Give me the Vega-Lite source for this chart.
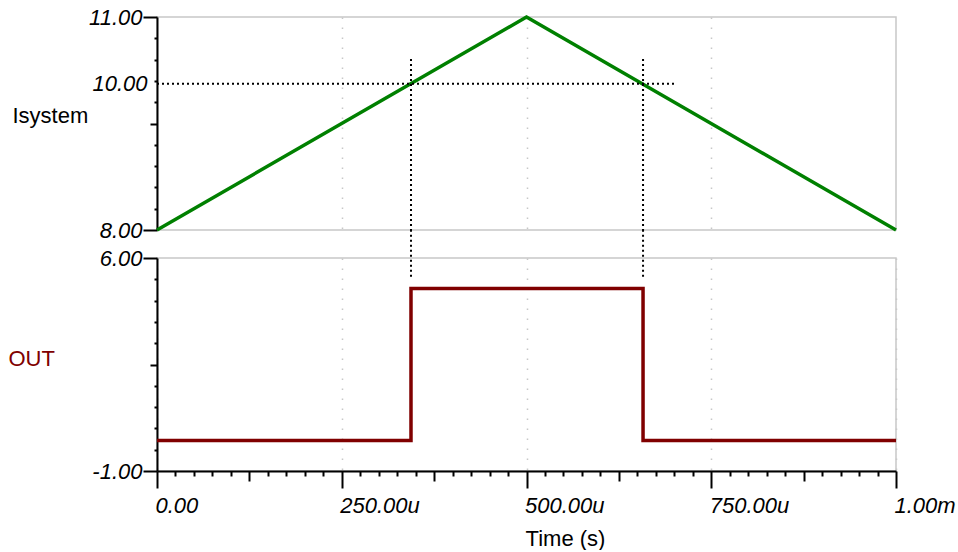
{
  "$schema": "https://vega.github.io/schema/vega-lite/v6.json",
  "padding": {"left": 7, "top": 5, "right": 0, "bottom": 0},
  "background": "white",
  "bounds": "flush",
  "spacing": 28,
  "config": {
    "font": "Liberation Sans",
    "view": {"stroke": "#c8c8c8", "strokeWidth": 1.5},
    "axis": {
      "domainColor": "black", "domainWidth": 2,
      "tickColor": "black", "tickWidth": 2,
      "labelColor": "black", "labelFont": "Liberation Sans", "labelFontSize": 22, "labelFontStyle": "italic",
      "titleFont": "Liberation Sans", "titleFontSize": 22, "titleFontWeight": "normal", "titleColor": "black",
      "grid": false, "labelFlush": false, "labelOverlap": false, "labelBound": false
    }
  },
  "vconcat": [
    {
      "width": 739, "height": 213,
      "resolve": {"axis": {"x": "independent", "y": "independent"}},
      "layer": [
        {
          "data": {"values": [{"time_us": 0, "isystem": 8}, {"time_us": 500, "isystem": 11}, {"time_us": 1000, "isystem": 8}]},
          "mark": {"type": "line", "color": "#008000", "strokeWidth": 3.5},
          "encoding": {
            "x": {"field": "time_us", "type": "quantitative", "scale": {"domain": [0, 1000], "nice": false, "zero": false},
              "axis": {"orient": "bottom", "values": [250, 500, 750], "grid": true, "gridColor": "#c8c8c8", "gridDash": [1.5, 8.5], "gridWidth": 1.5, "domain": false, "ticks": false, "labels": false, "title": null}},
            "y": {"field": "isystem", "type": "quantitative", "scale": {"domain": [8, 11], "nice": false, "zero": false},
              "axis": {
                "orient": "left", "values": [8, 11], "tickSize": 14, "format": ".2f",
                "labelPadding": 1, "labelBaseline": "middle",
                "title": "Isystem", "titleAngle": 0, "titleAlign": "left", "titleBaseline": "alphabetic", "titleX": -145, "titleY": 105
              }}
          }
        },
        {
          "data": {"values": [{"cursor_y": 10.06, "x_start": 0, "x_end": 700}]},
          "mark": {"type": "rule", "color": "black", "strokeWidth": 2, "strokeDash": [2, 3]},
          "encoding": {
            "y": {"field": "cursor_y", "type": "quantitative",
              "axis": {"orient": "left", "values": [10.06], "domain": false, "ticks": false, "labelExpr": "'10.00'", "labelPadding": 10, "labelBaseline": "middle", "title": null}},
            "x": {"field": "x_start", "type": "quantitative", "axis": null},
            "x2": {"field": "x_end"}
          }
        },
        {
          "data": {"values": [{"cursor_t": 343.7}]},
          "mark": {"type": "rule", "color": "black", "strokeWidth": 2, "strokeDash": [2, 3]},
          "encoding": {
            "x": {"field": "cursor_t", "type": "quantitative", "axis": null},
            "y": {"datum": 10.41, "type": "quantitative",
              "axis": {"orient": "left", "values": [8.3, 8.6, 8.9, 9.2, 9.8, 10.1, 10.4, 10.7], "domain": false, "tickSize": 3, "labels": false, "title": null}},
            "y2": {"datum": 8}
          }
        },
        {
          "data": {"values": [{"cursor_t": 657.7}]},
          "mark": {"type": "rule", "color": "black", "strokeWidth": 2, "strokeDash": [2, 3]},
          "encoding": {
            "x": {"field": "cursor_t", "type": "quantitative", "axis": null},
            "y": {"datum": 10.41, "type": "quantitative",
              "axis": {"orient": "left", "values": [9.5], "domain": false, "tickSize": 7, "labels": false, "title": null}},
            "y2": {"datum": 8}
          }
        }
      ]
    },
    {
      "width": 739, "height": 213,
      "resolve": {"axis": {"x": "independent", "y": "independent"}},
      "layer": [
        {
          "data": {"values": [{"time_us": 0, "out": 0}, {"time_us": 343.7, "out": 5}, {"time_us": 657.7, "out": 0}, {"time_us": 1000, "out": 0}]},
          "mark": {"type": "line", "color": "#800000", "strokeWidth": 3.5, "interpolate": "step-after"},
          "encoding": {
            "x": {"field": "time_us", "type": "quantitative", "scale": {"domain": [0, 1000], "nice": false, "zero": false},
              "axis": {
                "orient": "bottom", "values": [0, 250, 500, 750, 1000], "tickSize": 17,
                "labelExpr": "datum.value==0?'0.00':datum.value==250?'250.00u':datum.value==500?'500.00u':datum.value==750?'750.00u':'1.00m'",
                "labelAlign": "left", "labelBaseline": "top", "labelPadding": 7, "labelOffset": -2,
                "grid": true, "gridColor": "#c8c8c8", "gridDash": [1.5, 8.5], "gridWidth": 1.5,
                "title": "Time (s)", "titleX": 408, "titleY": 74, "titleAlign": "center", "titleBaseline": "alphabetic"
              }},
            "y": {"field": "out", "type": "quantitative", "scale": {"domain": [-1, 6], "nice": false, "zero": false},
              "axis": {
                "orient": "left", "values": [-1, 6], "tickSize": 14,
                "labelExpr": "datum.value==-1?'-1.00':'6.00'",
                "labelPadding": 1, "labelBaseline": "middle",
                "title": "OUT", "titleColor": "#800000", "titleAngle": 0, "titleAlign": "left", "titleBaseline": "alphabetic", "titleX": -149, "titleY": 107
              }}
          }
        },
        {
          "data": {"values": [{"cursor_t": 343.7}]},
          "mark": {"type": "rule", "color": "black", "strokeWidth": 2, "strokeDash": [2, 3]},
          "encoding": {
            "x": {"field": "cursor_t", "type": "quantitative",
              "axis": {"orient": "bottom", "values": [125, 375, 625, 875], "domain": false, "tickSize": 10, "labels": false, "title": null}},
            "y": {"datum": 6.93, "type": "quantitative",
              "axis": {"orient": "left", "values": [-0.3, 0.4, 1.1, 1.8, 3.2, 3.9, 4.6, 5.3], "domain": false, "tickSize": 3, "labels": false, "title": null}},
            "y2": {"datum": 5.34}
          }
        },
        {
          "data": {"values": [{"cursor_t": 657.7}]},
          "mark": {"type": "rule", "color": "black", "strokeWidth": 2, "strokeDash": [2, 3]},
          "encoding": {
            "x": {"field": "cursor_t", "type": "quantitative",
              "axis": {"orient": "bottom", "values": [25, 50, 75, 100, 150, 175, 200, 225, 275, 300, 325, 350, 400, 425, 450, 475, 525, 550, 575, 600, 650, 675, 700, 725, 775, 800, 825, 850, 900, 925, 950, 975], "domain": false, "tickSize": 5, "labels": false, "title": null}},
            "y": {"datum": 6.93, "type": "quantitative",
              "axis": {"orient": "left", "values": [2.5], "domain": false, "tickSize": 7, "labels": false, "title": null}},
            "y2": {"datum": 5.34}
          }
        }
      ]
    }
  ]
}
